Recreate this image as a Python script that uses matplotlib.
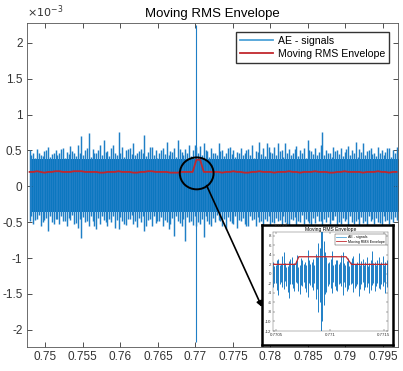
import numpy as np
import matplotlib
matplotlib.use("Agg")
import matplotlib.pyplot as plt
from matplotlib.patches import Ellipse
from matplotlib.lines import Line2D
from matplotlib.ticker import FuncFormatter

plt.rcParams['font.family'] = ['Liberation Sans', 'DejaVu Sans']

# main view: peaks / troughs of the AE signal (x 1e-3),
# two interleaved sets of samples per bin
t_start, t_end = 0.7479, 0.7968
core_top, core_bot = 0.38, -0.36
sig_hi = [
    0.50, 0.46, 0.52, 0.44, 0.49, 0.55, 0.45, 0.51, 0.47, 0.53,
    0.48, 0.56, 0.46, 0.58, 0.70, 0.50, 0.74, 0.52, 0.47, 0.57,
    0.65, 0.49, 0.54, 0.47, 0.75, 0.55, 0.50, 0.53, 0.60, 0.46,
    0.52, 0.72, 0.48, 0.55, 0.50, 0.47, 0.53, 0.62, 0.49, 0.54,
    0.65, 0.48, 0.52, 0.57, 0.50, 0.55, 0.56, 0.60, 0.49, 0.53,
    0.47, 0.60, 0.51, 0.46, 0.55, 0.50, 0.48, 0.54, 0.47, 0.52,
    0.58, 0.49, 0.62, 0.53, 0.60, 0.48, 0.55, 0.60, 0.50, 0.60,
    0.52, 0.47, 0.56, 0.50, 0.54, 0.65, 0.49, 0.53, 0.48, 0.75,
    0.51, 0.47, 0.55, 0.50, 0.53, 0.48, 0.56, 0.50, 0.62, 0.52,
    0.60, 0.49, 0.54, 0.47, 0.55, 0.51, 0.48, 0.53, 0.50, 0.55]
sig_hi2 = [
    0.44, 0.40, 0.47, 0.42, 0.50, 0.41, 0.46, 0.43, 0.52, 0.40,
    0.45, 0.49, 0.42, 0.47, 0.44, 0.53, 0.41, 0.46, 0.50, 0.43,
    0.48, 0.42, 0.57, 0.44, 0.47, 0.41, 0.52, 0.45, 0.43, 0.49,
    0.46, 0.42, 0.55, 0.44, 0.40, 0.50, 0.45, 0.43, 0.48, 0.41,
    0.52, 0.44, 0.46, 0.42, 0.58, 0.47, 0.43, 0.50, 0.41, 0.46,
    0.44, 0.49, 0.42, 0.53, 0.45, 0.41, 0.47, 0.43, 0.51, 0.44,
    0.40, 0.48, 0.45, 0.42, 0.55, 0.46, 0.43, 0.49, 0.41, 0.47,
    0.44, 0.52, 0.42, 0.46, 0.40, 0.50, 0.45, 0.43, 0.57, 0.44,
    0.47, 0.41, 0.49, 0.45, 0.42, 0.52, 0.44, 0.46, 0.41, 0.48,
    0.43, 0.50, 0.45, 0.42, 0.47, 0.44, 0.53, 0.41, 0.46, 0.44]
sig_lo = [
    -0.48, -0.52, -0.45, -0.55, -0.47, -0.62, -0.50, -0.46, -0.53, -0.49,
    -0.55, -0.47, -0.52, -0.58, -0.72, -0.50, -0.56, -0.48, -0.60, -0.53,
    -0.47, -0.55, -0.50, -0.58, -0.60, -0.49, -0.54, -0.46, -0.52, -0.57,
    -0.50, -0.62, -0.47, -0.55, -0.51, -0.48, -0.56, -0.50, -0.53, -0.69,
    -0.49, -0.55, -0.76, -0.50, -0.54, -0.56, -0.52, -0.70, -0.48, -0.56,
    -0.50, -0.47, -0.55, -0.60, -0.49, -0.53, -0.58, -0.48, -0.52, -0.55,
    -0.47, -0.56, -0.50, -0.53, -0.48, -0.57, -0.51, -0.49, -0.55, -0.50,
    -0.54, -0.47, -0.58, -0.50, -0.52, -0.48, -0.56, -0.51, -0.49, -0.55,
    -0.50, -0.53, -0.47, -0.56, -0.52, -0.49, -0.55, -0.50, -0.48, -0.54,
    -0.51, -0.57, -0.49, -0.53, -0.50, -0.55, -0.48, -0.52, -0.50, -0.47]
sig_lo2 = [
    -0.42, -0.47, -0.40, -0.50, -0.44, -0.41, -0.53, -0.45, -0.42, -0.48,
    -0.44, -0.40, -0.51, -0.46, -0.43, -0.49, -0.41, -0.56, -0.44, -0.42,
    -0.50, -0.45, -0.41, -0.47, -0.43, -0.52, -0.46, -0.40, -0.48, -0.44,
    -0.42, -0.55, -0.45, -0.41, -0.49, -0.43, -0.47, -0.60, -0.44, -0.42,
    -0.51, -0.45, -0.43, -0.48, -0.41, -0.50, -0.46, -0.42, -0.53, -0.44,
    -0.40, -0.48, -0.45, -0.43, -0.51, -0.42, -0.47, -0.44, -0.55, -0.41,
    -0.46, -0.43, -0.49, -0.45, -0.42, -0.50, -0.44, -0.47, -0.41, -0.52,
    -0.45, -0.43, -0.48, -0.40, -0.46, -0.51, -0.44, -0.42, -0.49, -0.45,
    -0.43, -0.47, -0.41, -0.50, -0.44, -0.46, -0.42, -0.53, -0.45, -0.43,
    -0.48, -0.41, -0.46, -0.44, -0.51, -0.42, -0.47, -0.45, -0.43, -0.49]
burst_t, burst_hi, burst_lo = 0.77013, 2.25, -2.17
rms_env = [
    0.20, 0.20, 0.21, 0.20, 0.19, 0.20, 0.20, 0.21, 0.21, 0.20,
    0.20, 0.20, 0.21, 0.21, 0.21, 0.20, 0.20, 0.20, 0.20, 0.19,
    0.19, 0.20, 0.20, 0.20, 0.21, 0.20, 0.20, 0.20, 0.19, 0.19,
    0.20, 0.20, 0.21, 0.21, 0.20, 0.20, 0.20, 0.20, 0.19, 0.19,
    0.19, 0.20, 0.20, 0.20, 0.20, 0.37, 0.37, 0.20, 0.20, 0.20,
    0.20, 0.20, 0.19, 0.20, 0.20, 0.21, 0.20, 0.20, 0.19, 0.19,
    0.20, 0.20, 0.21, 0.20, 0.20, 0.20, 0.19, 0.20, 0.20, 0.20,
    0.21, 0.20, 0.20, 0.19, 0.20, 0.20, 0.20, 0.21, 0.20, 0.20,
    0.20, 0.19, 0.19, 0.20, 0.20, 0.21, 0.20, 0.20, 0.20, 0.20,
    0.19, 0.20, 0.20, 0.20, 0.21, 0.20, 0.20, 0.19, 0.20, 0.20]

# zoomed view (x 1e-4)
z_start, z_end = 0.77047, 0.77154
zoom_hi = [
    2.5, 1.8, 3.2, 2.0, 4.5, 1.5, 2.8, 3.5, 2.2, 4.0,
    1.8, 3.0, 2.5, 5.0, 2.0, 3.2, 4.2, 6.5, 12.5, 7.0,
    3.5, 2.6, 4.8, 2.0, 3.0, 2.4, 4.6, 1.8, 3.3, 2.5,
    3.8, 2.0, 4.4, 2.7, 1.9, 3.6, 2.2, 4.9, 2.5, 3.0,
    2.1, 3.7, 2.4, 2.8]
zoom_hi2 = [
    1.6, 2.9, 1.9, 3.8, 2.3, 1.7, 3.1, 2.0, 2.7, 1.5,
    3.4, 2.1, 1.8, 3.0, 2.6, 1.9, 3.5, 5.5, 9.0, 4.5,
    2.2, 3.1, 1.8, 2.9, 2.0, 3.9, 2.3, 2.8, 1.7, 3.4,
    2.1, 2.6, 1.9, 3.2, 2.4, 1.6, 3.0, 2.2, 1.8, 3.5,
    2.5, 1.9, 3.0, 2.0]
zoom_lo = [
    -2.8, -2.0, -4.5, -1.8, -3.2, -2.5, -5.0, -2.2, -3.6, -2.0,
    -4.2, -2.6, -3.0, -4.8, -2.4, -3.4, -5.2, -8.0, -12.5, -6.5,
    -3.8, -2.2, -4.0, -2.6, -3.5, -2.0, -4.4, -2.8, -3.1, -2.2,
    -3.9, -2.5, -4.6, -2.1, -3.3, -2.7, -4.0, -2.3, -3.6, -2.0,
    -3.2, -2.6, -4.1, -2.4]
zoom_lo2 = [
    -1.9, -3.3, -2.2, -2.7, -1.6, -3.8, -2.1, -2.9, -1.8, -3.5,
    -2.3, -1.7, -3.9, -2.0, -2.8, -1.9, -3.1, -6.0, -10.0, -4.2,
    -2.5, -3.0, -1.8, -3.4, -2.1, -2.6, -1.7, -3.6, -2.4, -1.9,
    -2.9, -2.2, -3.2, -1.8, -2.7, -2.0, -3.3, -1.9, -2.5, -3.0,
    -2.2, -1.8, -2.8, -2.1]
zoom_env_t = [0.77047, 0.77068, 0.77071, 0.77115, 0.77120, 0.77154]
zoom_env = [2.0, 2.0, 3.6, 3.6, 2.0, 2.0]

sig_col = '#0072BD'
needle_col = '#1F7FC6'
leg_col = '#4DA3D8'
env_col = '#C1272D'


def style_axes(ax, fs, lw):
    ax.tick_params(direction='in', top=True, right=True, labelsize=fs,
                   width=lw, length=fs * 0.45, pad=fs * 0.35, colors='#333333')
    for s in ax.spines.values():
        s.set_linewidth(lw)
        s.set_color('#555555')


def draw_signal(ax, hi, lo, hi2, lo2, t0, t1, lw):
    t = np.linspace(t0, t1, len(hi))
    t2 = t + (t[1] - t[0]) / 2
    ax.vlines(t, lo, hi, color=needle_col, lw=lw)
    ax.vlines(t2, lo2, hi2, color=needle_col, lw=lw)


fmt = FuncFormatter(lambda v, p: ('%g' % round(v, 6)).replace('\u2212', '-'))

fig = plt.figure(figsize=(4.03, 3.71), dpi=100)
ax = fig.add_axes([0.066, 0.0647, 0.9216, 0.8741])

ax.fill_between([t_start, t_end + 0.0003], core_bot, core_top, color=sig_col, lw=0)
draw_signal(ax, sig_hi, sig_lo, sig_hi2, sig_lo2, t_start, t_end, 1.05)
ax.vlines([burst_t], [burst_lo], [burst_hi], color=needle_col, lw=0.8)
ax.plot(np.linspace(t_start, t_end, len(rms_env)), rms_env, color=env_col, lw=1.3)

ax.set_xlim(0.7475, 0.797)
ax.set_ylim(-2.24, 2.28)
ax.set_xticks(np.arange(0.75, 0.7951, 0.005))
ax.set_yticks(np.arange(-2, 2.01, 0.5))
ax.xaxis.set_major_formatter(fmt)
ax.yaxis.set_major_formatter(fmt)
style_axes(ax, 8.5, 0.6)
ax.set_title('Moving RMS Envelope', fontsize=9.5, pad=4)
ax.text(0.0, 1.008, r'$\times10^{-3}$', transform=ax.transAxes, fontsize=8,
        ha='left', va='bottom', color='#333333')

handles = [Line2D([], [], color=leg_col, lw=1.3), Line2D([], [], color=env_col, lw=1.3)]
ax.legend(handles, ['AE - signals', 'Moving RMS Envelope'], loc='upper right',
          fontsize=7.6, handlelength=3.2, borderaxespad=0.9, fancybox=False,
          framealpha=1, edgecolor='#333333', borderpad=0.35, labelspacing=0.3,
          handletextpad=0.4)

# circle around the burst
ax.add_patch(Ellipse((0.77017, 0.18), 0.0045, 0.445, fill=False, ec='black', lw=1.4, zorder=5))

# inset frame and inset plot
frame = fig.add_axes([0.650, 0.070, 0.325, 0.323])
frame.set_xticks([])
frame.set_yticks([])
for s in frame.spines.values():
    s.set_linewidth(1.8)
    s.set_color('black')

ax.annotate('', xy=(0.0, 0.317), xycoords=frame.transAxes,
            xytext=(0.7715, 0.01), textcoords='data',
            arrowprops=dict(arrowstyle='-|>', color='black', lw=1.2,
                            mutation_scale=8, shrinkA=0, shrinkB=0), zorder=6)

ins = fig.add_axes([0.6774, 0.1078, 0.2854, 0.2669])
draw_signal(ins, zoom_hi, zoom_lo, zoom_hi2, zoom_lo2, z_start, z_end, 0.7)
ins.plot(zoom_env_t, zoom_env, color=env_col, lw=0.9)
ins.set_xlim(z_start, z_end)
ins.set_ylim(-12, 8.8)
ins.set_xticks([0.7705, 0.771, 0.7715])
ins.set_yticks(np.arange(-12, 8.1, 2))
ins.xaxis.set_major_formatter(fmt)
ins.yaxis.set_major_formatter(fmt)
style_axes(ins, 3.2, 0.3)
ins.set_title('Moving RMS Envelope', fontsize=3.6, pad=1)
ins.text(0.0, 1.01, r'$\times10^{-4}$', transform=ins.transAxes, fontsize=3,
         ha='left', va='bottom', color='#333333')
ins_handles = [Line2D([], [], color=leg_col, lw=0.6), Line2D([], [], color=env_col, lw=0.6)]
ins.legend(ins_handles, ['AE - signals', 'Moving RMS Envelope'], loc='upper right',
           fontsize=2.6, handlelength=3.0, fancybox=False, framealpha=1,
           edgecolor='#333333', borderpad=0.3, labelspacing=0.1, handletextpad=0.4,
           borderaxespad=0.6).get_frame().set_linewidth(0.3)

fig.savefig('out.png', dpi=100)
